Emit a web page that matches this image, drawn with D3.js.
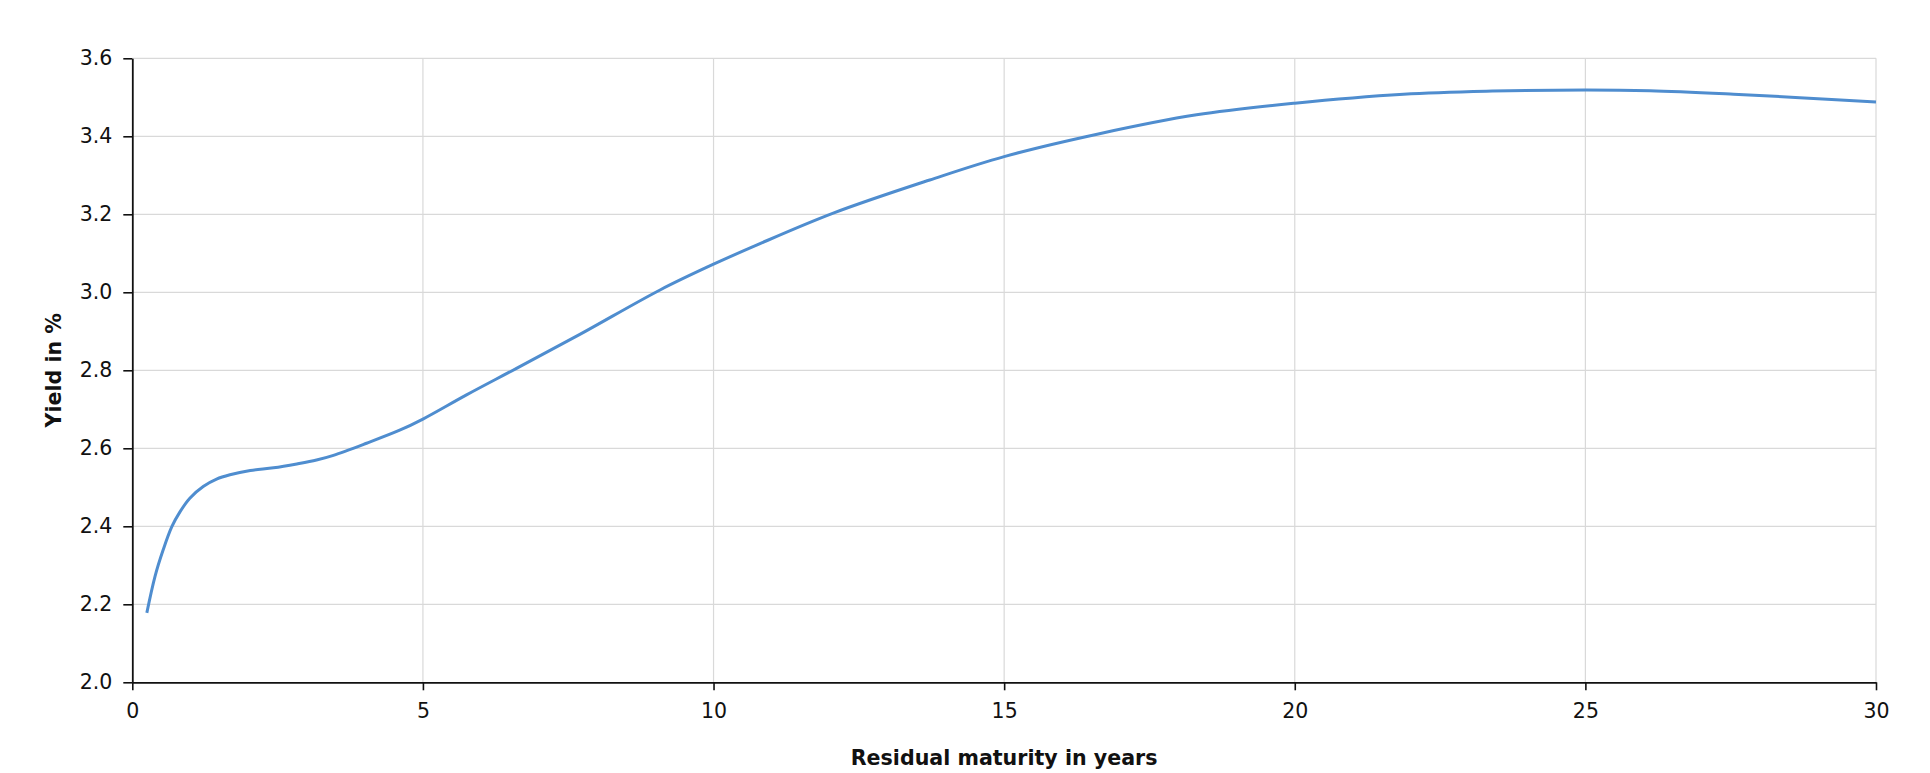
<!DOCTYPE html>
<html>
<head>
<meta charset="utf-8">
<script src="https://cdn.jsdelivr.net/npm/d3@7"></script>
<style>
  html, body { margin: 0; padding: 0; background: #ffffff; }
  svg { display: block; }
  text { font-family: "DejaVu Sans", Verdana, sans-serif; fill: #111; }
</style>
</head>
<body>
<svg id="chart" width="1930" height="773"></svg>
<script>
// ---- data ----
const maturity = [0.25, 0.39, 0.53, 0.68, 0.82, 0.99, 1.22, 1.45, 1.68, 2.03, 2.43, 2.83, 3.17, 3.46, 4.03, 4.61, 5.0, 5.75, 6.61, 7.7, 9.08, 10.0, 10.74, 12.06, 13.72, 15.0, 16.62, 18.31, 20.0, 21.87, 23.4, 25.0, 26.11, 27.55, 28.69, 30.0];
const yieldPct = [2.178, 2.271, 2.339, 2.399, 2.437, 2.472, 2.502, 2.521, 2.532, 2.543, 2.550, 2.560, 2.570, 2.582, 2.613, 2.647, 2.675, 2.737, 2.805, 2.892, 3.006, 3.072, 3.121, 3.203, 3.288, 3.348, 3.406, 3.455, 3.485, 3.508, 3.516, 3.519, 3.517, 3.508, 3.499, 3.488];
const xTicks = [0, 5, 10, 15, 20, 25, 30];
const yTicks = [2.0, 2.2, 2.4, 2.6, 2.8, 3.0, 3.2, 3.4, 3.6];
const xTitle = "Residual maturity in years";
const yTitle = "Yield in %";

(function () {
const svg = d3.select("#chart");
const mLeft = 132.3, mRight = 1876, mTop = 58.3, mBottom = 682.3;

const x = d3.scaleLinear().domain([0, 30]).range([mLeft, mRight]);
const y = d3.scaleLinear().domain([2.0, 3.6]).range([mBottom, mTop]);

// grid
const grid = svg.append("g");
grid.selectAll("line.h").data(yTicks.slice(1)).join("line")
  .attr("class", "h")
  .attr("x1", mLeft).attr("x2", mRight)
  .attr("y1", d => y(d)).attr("y2", d => y(d))
  .attr("stroke", "#d9d9d9").attr("stroke-width", 1.2);
grid.selectAll("line.v").data(xTicks.slice(1)).join("line")
  .attr("class", "v")
  .attr("y1", mTop).attr("y2", mBottom)
  .attr("x1", d => x(d)).attr("x2", d => x(d))
  .attr("stroke", "#d9d9d9").attr("stroke-width", 1.2);

// axes
const xAxis = d3.axisBottom(x).tickValues(xTicks).tickFormat(d3.format("d"))
  .tickSizeInner(8).tickSizeOuter(0).tickPadding(13);
const yAxis = d3.axisLeft(y).tickValues(yTicks).tickFormat(d3.format(".1f"))
  .tickSizeInner(9).tickSizeOuter(0).tickPadding(11);

const gx = svg.append("g").attr("transform", `translate(0,${mBottom})`).call(xAxis);
const gy = svg.append("g").attr("transform", `translate(${mLeft},0)`).call(yAxis);
[gx, gy].forEach(g => {
  g.select(".domain").attr("stroke", "#111").attr("stroke-width", 1.8);
  g.selectAll(".tick line").attr("stroke", "#111").attr("stroke-width", 1.6);
  g.selectAll(".tick text").attr("font-size", 20.5).attr("font-family", "DejaVu Sans, Verdana, sans-serif").attr("fill", "#111");
});

// line
const pts = maturity.map((m, i) => [m, yieldPct[i]]);
svg.append("path")
  .datum(pts)
  .attr("fill", "none")
  .attr("stroke", "#4f8dcf")
  .attr("stroke-width", 3)
  .attr("stroke-linejoin", "round")
  .attr("d", d3.line().x(d => x(d[0])).y(d => y(d[1])).curve(d3.curveCatmullRom.alpha(0.5)));

// titles
svg.append("text")
  .attr("x", (mLeft + mRight) / 2).attr("y", 758)
  .attr("text-anchor", "middle").attr("dominant-baseline", "central")
  .attr("font-size", 20.6).attr("font-weight", "bold")
  .text(xTitle);

svg.append("text")
  .attr("transform", `translate(54,${(mTop + mBottom) / 2}) rotate(-90)`)
  .attr("text-anchor", "middle").attr("dominant-baseline", "central")
  .attr("font-size", 20.6).attr("font-weight", "bold")
  .text(yTitle);
})();
</script>
</body>
</html>
